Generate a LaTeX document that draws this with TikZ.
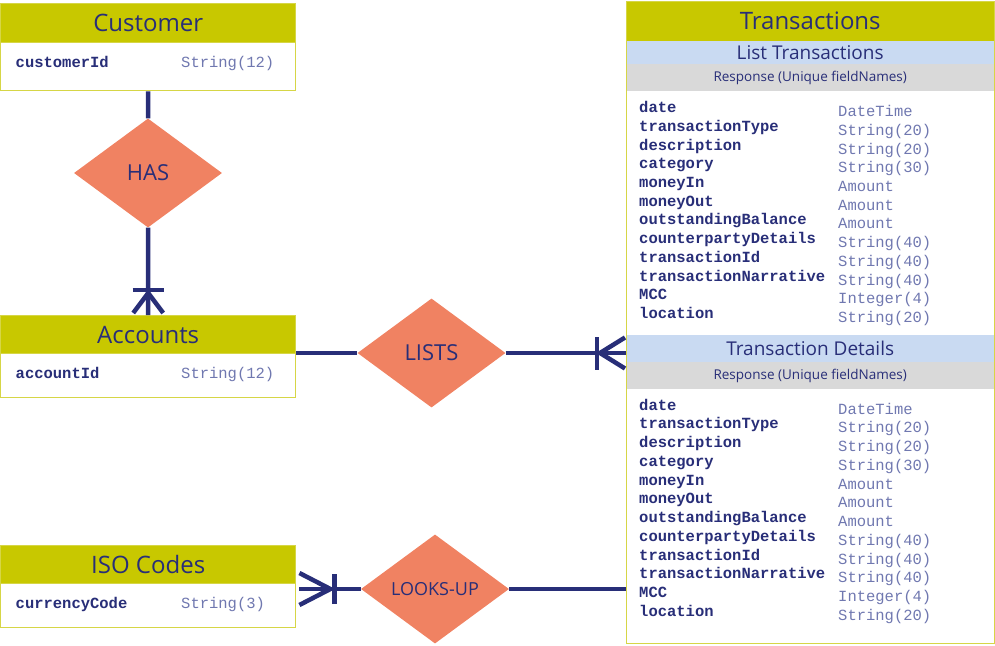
\documentclass[tikz,border=0pt]{standalone}
\usepackage{fontspec}
\setmainfont{Open Sans}
\newfontfamily\codefont{Liberation Mono}
\usetikzlibrary{shapes.geometric}

\definecolor{hdrolive}{RGB}{200,200,0}
\definecolor{edgeyel}{RGB}{214,214,70}
\definecolor{navy}{RGB}{40,46,120}
\definecolor{typeblue}{RGB}{112,120,176}
\definecolor{salmon}{RGB}{240,130,98}
\definecolor{bandblue}{RGB}{201,218,242}
\definecolor{bandgray}{RGB}{217,217,217}

\tikzset{
  head/.style={draw=edgeyel, fill=hdrolive, line width=1.4pt, text=navy, font=\fontsize{24}{28}\selectfont,
    minimum width=295pt, inner sep=0pt, anchor=north west},
  body/.style={draw=edgeyel, fill=white, line width=1.4pt, minimum width=295pt, inner sep=0pt, anchor=north west},
  fname/.style={text=navy, font=\codefont\bfseries\fontsize{15.5}{18}\selectfont, anchor=base west, inner sep=0pt},
  ftype/.style={text=typeblue, font=\codefont\fontsize{15.5}{18}\selectfont, anchor=base west, inner sep=0pt},
  rel/.style={diamond, fill=salmon, text=navy, inner sep=0pt, minimum width=148pt, minimum height=109pt},
  band/.style={minimum width=368pt, inner sep=0pt, anchor=north west, text=navy},
  conn/.style={draw=navy, line width=4.5pt},
}

\begin{document}
\begin{tikzpicture}[x=1pt, y=-1pt]
    \useasboundingbox (0,0) rectangle (995,645);

    % Draw entities
    \node[head, minimum height=39pt] (custh) at (0,3) {Customer};
    \node[body, minimum height=48pt] (custb) at (0,42) {};
    \node[fname] (cf) at (15.5,67.5) {customerId};
    \node[ftype] (ct) at (181,67) {String(12)};

    \node[head, minimum height=38pt] (acch) at (0,315) {Accounts};
    \node[body, minimum height=44pt] (accb) at (0,353) {};
    \node[fname] (af) at (15.5,378) {accountId};
    \node[ftype] (at) at (181,378) {String(12)};

    \node[head, minimum height=38pt] (isoh) at (0,545) {ISO Codes};
    \node[body, minimum height=44pt] (isob) at (0,583) {};
    \node[fname] (if) at (15.5,608) {currencyCode};
    \node[ftype] (it) at (181,608) {String(3)};

    % Transactions box
    \node[band, fill=hdrolive, minimum height=40pt, font=\fontsize{24}{28}\selectfont] (txh) at (626,1) {Transactions};
    \node[band, fill=bandblue, minimum height=23pt, font=\fontsize{19}{22}\selectfont] (ltx) at (626,41) {List Transactions};
    \node[band, fill=bandgray, minimum height=27pt, font=\fontsize{13.5}{16}\selectfont] (lrsp) at (626,64) {Response (Unique fieldNames)};
    \node[band, fill=bandblue, minimum height=27pt, font=\fontsize{19}{22}\selectfont] (dtx) at (626,335) {Transaction Details};
    \node[band, fill=bandgray, minimum height=27pt, font=\fontsize{13.5}{16}\selectfont] (drsp) at (626,362) {Response (Unique fieldNames)};
    \node[draw=edgeyel, line width=1.4pt, minimum width=368pt, minimum height=642pt, inner sep=0pt, anchor=north west] (tx) at (626,1) {};

    \foreach \f/\t [count=\i from 0] in {date/DateTime, transactionType/String(20), description/String(20),
        category/String(30), moneyIn/Amount, moneyOut/Amount, outstandingBalance/Amount,
        counterpartyDetails/String(40), transactionId/String(40), transactionNarrative/String(40),
        MCC/Integer(4), location/String(20)} {
      \node[fname] (lf\i) at (639,{112.7+18.7*\i}) {\f};
      \node[ftype] (lt\i) at (838,{116.7+18.7*\i}) {\t};
      \node[fname] (df\i) at (639,{410+18.75*\i}) {\f};
      \node[ftype] (dt\i) at (838,{414+18.75*\i}) {\t};
    }

    % Draw relationships
    \node[rel, font=\fontsize{22}{26}\selectfont] (has) at (148,173) {HAS};
    \node[rel, font=\fontsize{22}{26}\selectfont] (lists) at (431.5,353) {LISTS};
    \node[rel, font=\fontsize{18}{22}\selectfont] (looks) at (435,589) {LOOKS-UP};

    % Draw connections
    \draw[conn] (custb.south) -- (has.north);
    \draw[conn] (has.south) -- (acch.north);
    \draw[conn] ([xshift=-15.5pt,yshift=25pt]acch.north) -- ([xshift=15.5pt,yshift=25pt]acch.north);
    \draw[conn] ([xshift=-15pt,yshift=2pt]acch.north) -- ([yshift=22pt]acch.north) -- ([xshift=15pt,yshift=2pt]acch.north);

    \coordinate (accr) at (acch.east |- lists.west);
    \coordinate (txl) at (tx.west |- lists.east);
    \draw[conn] (accr) -- (lists.west);
    \draw[conn] (lists.east) -- (txl);
    \draw[conn] ([xshift=-29pt,yshift=-16.5pt]txl) -- ([xshift=-29pt,yshift=16.5pt]txl);
    \draw[conn] ([xshift=-1pt,yshift=15.5pt]txl) -- ([xshift=-26pt]txl) -- ([xshift=-1pt,yshift=-15.5pt]txl);

    \coordinate (isor) at ([xshift=3pt]isob.east |- looks.west);
    \draw[conn] (isor) -- (looks.west);
    \draw[conn] ([xshift=35pt,yshift=-15pt]isor) -- ([xshift=35pt,yshift=15pt]isor);
    \draw[conn] ([yshift=16pt]isor) -- ([xshift=31pt]isor) -- ([yshift=-16pt]isor);
    \draw[conn] (looks.east) -- (tx.west |- looks.east);
\end{tikzpicture}
\end{document}
